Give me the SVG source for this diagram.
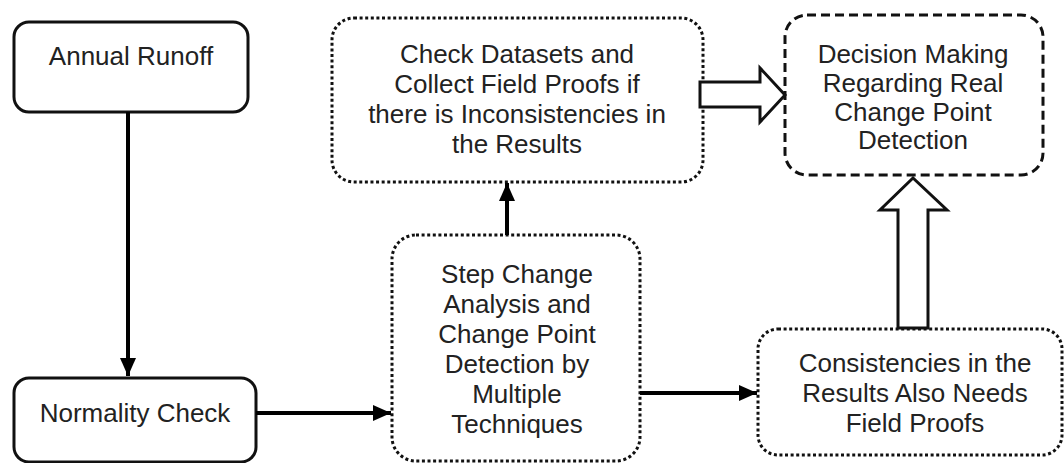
<svg xmlns="http://www.w3.org/2000/svg" width="1064" height="463" viewBox="0 0 1064 463">
<defs>
<style>
.box{fill:#fff;stroke:#111;stroke-width:3}
.dot{stroke-dasharray:3 2.6}
.dash{stroke-dasharray:9 5}
.t{font-family:"Liberation Sans",Arial,sans-serif;font-size:26px;fill:#222;text-anchor:middle}
.con{stroke:#000;stroke-width:4;fill:none}
.open{fill:#fff;stroke:#111;stroke-width:3;stroke-linejoin:miter}
</style>
<marker id="ah" markerWidth="5" markerHeight="5" refX="4.5" refY="2.5" orient="auto" markerUnits="strokeWidth">
<path d="M0,0.5 L4.5,2.5 L0,4.5 Z" fill="#000"/>
</marker>
</defs>
<rect width="1064" height="463" fill="#fff"/>
<g id="annual-runoff">
<rect class="box" x="14" y="22" width="234" height="90" rx="15"/>
<text class="t" x="131" y="65">Annual Runoff</text>
</g>
<g id="normality-check">
<rect class="box" x="14" y="378" width="242" height="84" rx="15"/>
<text class="t" x="135" y="422">Normality Check</text>
</g>
<g id="check-datasets">
<rect class="box dot" x="332" y="18" width="371" height="164" rx="22"/>
<text class="t" x="517" y="63">Check Datasets and</text>
<text class="t" x="517" y="93">Collect Field Proofs if</text>
<text class="t" x="517" y="123">there is Inconsistencies in</text>
<text class="t" x="517" y="153">the Results</text>
</g>
<g id="decision">
<rect class="box dash" x="785" y="15" width="258" height="160" rx="22"/>
<text class="t" x="913" y="63">Decision Making</text>
<text class="t" x="913" y="92">Regarding Real</text>
<text class="t" x="913" y="121">Change Point</text>
<text class="t" x="913" y="149">Detection</text>
</g>
<g id="step-change">
<rect class="box dot" x="392" y="235" width="248" height="226" rx="24"/>
<text class="t" x="517" y="283">Step Change</text>
<text class="t" x="517" y="313">Analysis and</text>
<text class="t" x="517" y="343">Change Point</text>
<text class="t" x="517" y="373">Detection by</text>
<text class="t" x="517" y="403">Multiple</text>
<text class="t" x="517" y="433">Techniques</text>
</g>
<g id="consistencies">
<rect class="box dot" x="758" y="329" width="304" height="126" rx="20"/>
<text class="t" x="915" y="372">Consistencies in the</text>
<text class="t" x="915" y="402">Results Also Needs</text>
<text class="t" x="915" y="432">Field Proofs</text>
</g>
<g id="connectors">
<line class="con" x1="128" y1="112" x2="128" y2="376" marker-end="url(#ah)"/>
<line class="con" x1="256" y1="413" x2="391" y2="413" marker-end="url(#ah)"/>
<line class="con" x1="640" y1="393" x2="757" y2="393" marker-end="url(#ah)"/>
<line class="con" x1="507" y1="235" x2="507" y2="183" marker-end="url(#ah)"/>
<polygon class="open" points="700,82 760,82 760,68 785,95 760,122 760,107 700,107"/>
<polygon class="open" points="898,328 898,210 880,210 913,178 947,210 928,210 928,328"/>
</g>
</svg>
